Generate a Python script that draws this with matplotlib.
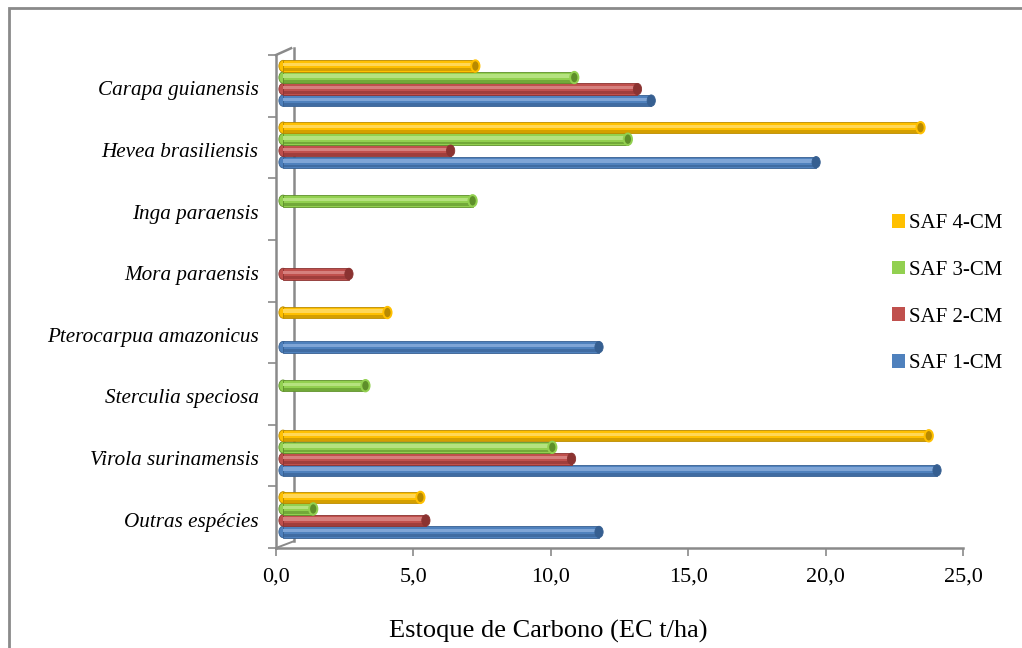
import matplotlib
matplotlib.use("Agg")
import matplotlib.pyplot as plt
import matplotlib.transforms as mtransforms
from matplotlib.patches import Patch, Ellipse, Rectangle
from matplotlib.lines import Line2D
import numpy as np

# ---- data ----
categories = ["Outras espécies", "Virola surinamensis", "Sterculia speciosa",
              "Pterocarpua amazonicus", "Mora paraensis", "Inga paraensis",
              "Hevea brasiliensis", "Carapa guianensis"]
series_names = ["SAF 1-CM", "SAF 2-CM", "SAF 3-CM", "SAF 4-CM"]
saf1 = [11.5, 23.8, 0.0, 11.5, 0.0, 0.0, 19.4, 13.4]
saf2 = [5.2, 10.5, 0.0, 0.0, 2.4, 0.0, 6.1, 12.9]
saf3 = [1.1, 9.8, 3.0, 0.0, 0.0, 6.9, 12.55, 10.6]
saf4 = [5.0, 23.5, 0.0, 3.8, 0.0, 0.0, 23.2, 7.0]
xticks = [0, 5, 10, 15, 20, 25]
xtick_labels = ["0,0", "5,0", "10,0", "15,0", "20,0", "25,0"]

colors = ["#4F81BD", "#C0504D", "#92D050", "#FFC000"]
dark = ["#365F91", "#8B3331", "#5E8F2A", "#B88A00"]
light = ["#7FA5D6", "#D6807E", "#B5E27F", "#FFD757"]

SERIF = "Liberation Serif"
W, H = 1022, 648
fig = plt.figure(figsize=(W / 100, H / 100), dpi=100)
fig.patch.set_facecolor("white")

# outer chart border
fig.add_artist(Rectangle((8.5 / W, -0.1), 1.2, (H - 8.5) / H + 0.1,
                         transform=fig.transFigure, fill=False,
                         edgecolor="#8A8A8A", linewidth=2))

ax = fig.add_axes([276 / W, 1 - 548 / H, (963 - 276) / W, (548 - 55) / H])
ax.set_xlim(0, 25)
ax.set_ylim(-0.5, len(categories) - 0.5)

# 3D depth offset for bars
off = mtransforms.ScaledTranslation(7 / 100, 2.5 / 100, fig.dpi_scale_trans)
btrans = ax.transData + off

y = np.arange(len(categories))
step = 0.187
bh = 0.185
cap_w = 0.3
all_series = [saf1, saf2, saf3, saf4]
for k, vals in enumerate(all_series):
    yy = y + (k - 1.5) * step
    for yi, v in zip(yy, vals):
        if v <= 0:
            continue
        ax.barh(yi, v, height=bh, color=colors[k], edgecolor=dark[k],
                linewidth=0.6, transform=btrans, zorder=3)
        # highlight strip
        ax.barh(yi + bh * 0.12, v, height=bh * 0.3, color=light[k],
                linewidth=0, transform=btrans, zorder=4)
        # dark lower strip
        ax.barh(yi - bh * 0.33, v, height=bh * 0.25, color=dark[k],
                linewidth=0, alpha=0.6, transform=btrans, zorder=4)
        # left rounded cap
        ax.add_patch(Ellipse((0, yi), cap_w, bh, facecolor=colors[k],
                             edgecolor=dark[k], linewidth=0.6,
                             transform=btrans, zorder=2))
        # end cap
        ax.add_patch(Ellipse((v, yi), cap_w, bh, facecolor=dark[k],
                             edgecolor=colors[k] if k >= 2 else dark[k],
                             linewidth=1.4 if k >= 2 else 0.6,
                             transform=btrans, zorder=5))

# axes styling
for s in ["top", "right"]:
    ax.spines[s].set_visible(False)
for s in ["left", "bottom"]:
    ax.spines[s].set_color("#8A8A8A")
    ax.spines[s].set_linewidth(1.8)

ax.set_xticks(xticks)
ax.set_xticklabels(xtick_labels, fontfamily=SERIF, fontsize=16)
ax.tick_params(axis="x", length=6, width=1.2, color="#8A8A8A", pad=8)

ax.set_yticks(y)
ax.set_yticklabels(categories, fontfamily=SERIF, fontstyle="italic", fontsize=15.2)
ax.tick_params(axis="y", which="major", length=0, pad=12.5)
ax.set_yticks(np.arange(-0.5, len(categories) + 0.5, 1), minor=True)
ax.tick_params(axis="y", which="minor", length=6, width=1.2, color="#8A8A8A")
lab_shift = mtransforms.ScaledTranslation(0, -2.5 / 100, fig.dpi_scale_trans)
for lab in ax.get_yticklabels():
    lab.set_transform(lab.get_transform() + lab_shift)

ax.set_xlabel("Estoque de Carbono (EC t/ha)", fontfamily=SERIF, fontsize=19)
ax.xaxis.set_label_coords((548 - 276) / (963 - 276), -(631 - 548) / (548 - 55),
                          transform=ax.transAxes)
ax.xaxis.label.set_va("center")

# back wall lines (3D look)
wall = mtransforms.ScaledTranslation(18 / 100, 7 / 100, fig.dpi_scale_trans)
ax.add_line(Line2D([0, 0], [-0.5, len(categories) - 0.5], color="#8A8A8A",
                   linewidth=1.8, transform=ax.transData + wall, clip_on=False))
ax.add_line(Line2D([0, 0.55], [len(categories) - 0.5, len(categories) - 0.5 + 0.11],
                   color="#8A8A8A", linewidth=1.8, clip_on=False))
ax.add_line(Line2D([0, 0.65], [-0.5, -0.5 + 0.11], color="#8A8A8A",
                   linewidth=1.4, clip_on=False))

handles = [Patch(facecolor=colors[k], edgecolor="none") for k in range(3, -1, -1)]
labels = [series_names[k] for k in range(3, -1, -1)]
fig.legend(handles, labels, loc="upper left", bbox_to_anchor=(873 / W, 1 - 195 / H),
           frameon=False, prop={"family": SERIF, "size": 15},
           handlelength=0.65, handleheight=0.65, handletextpad=0.2,
           labelspacing=1.32)

fig.savefig("out.png", dpi=100)
